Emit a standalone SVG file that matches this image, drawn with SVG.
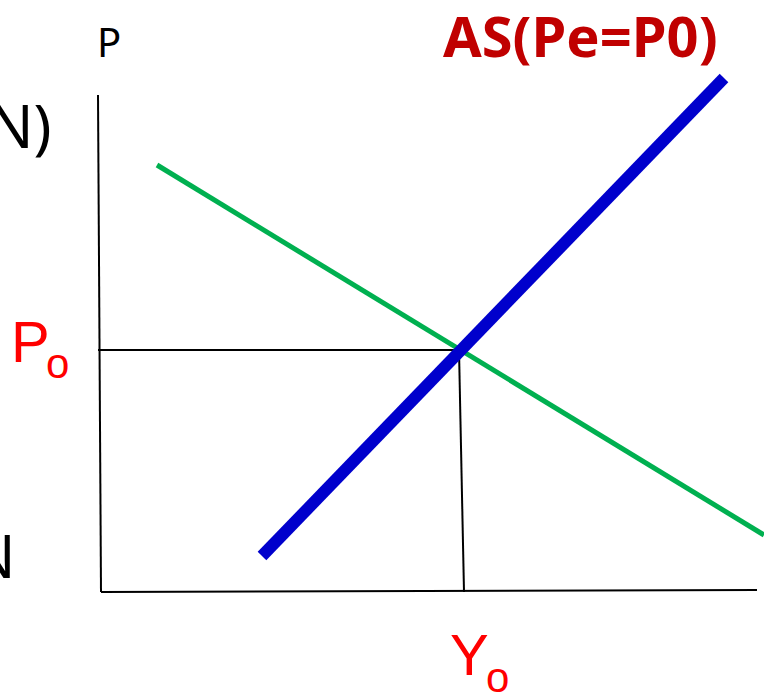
<svg xmlns="http://www.w3.org/2000/svg" width="764" height="694" viewBox="0 0 764 694">
<style>
.ax{stroke:#000;stroke-width:2;fill:none}
.blk{font-family:"Noto Sans","DejaVu Sans",sans-serif;fill:#000}
.red{font-family:"Liberation Sans",Arial,sans-serif;fill:#FF0000}
</style>
<rect width="764" height="694" fill="#fff"/>
<g id="connectors">
<line class="ax" x1="98" y1="95" x2="101" y2="592"/>
<line class="ax" x1="101" y1="592" x2="757" y2="590"/>
<line class="ax" x1="98" y1="350" x2="459" y2="350"/>
<line class="ax" x1="459" y1="350" x2="464" y2="592"/>
</g>
<g id="AD"><line x1="157" y1="165" x2="764" y2="535" stroke="#00B050" stroke-width="5"/></g>
<g id="AS"><line x1="262" y1="556" x2="724" y2="78" stroke="#0000CC" stroke-width="12"/></g>
<g id="labels">
<text class="blk" x="97" y="57" font-size="40">P</text>
<text x="443" y="57" style="font-family:'Noto Sans',sans-serif;font-weight:bold" font-size="56" fill="#C00000">AS(Pe=P0)</text>
<text class="blk" x="-12" y="148" font-size="60">N)</text>
<text class="blk" x="-30" y="578" font-size="60">N</text>
<text class="red" x="11" y="362" font-size="58">P</text>
<text class="red" x="46" y="378" font-size="42">o</text>
<text class="red" x="450" y="675" font-size="58">Y</text>
<text class="red" x="486" y="692" font-size="42">o</text>
</g>
</svg>
